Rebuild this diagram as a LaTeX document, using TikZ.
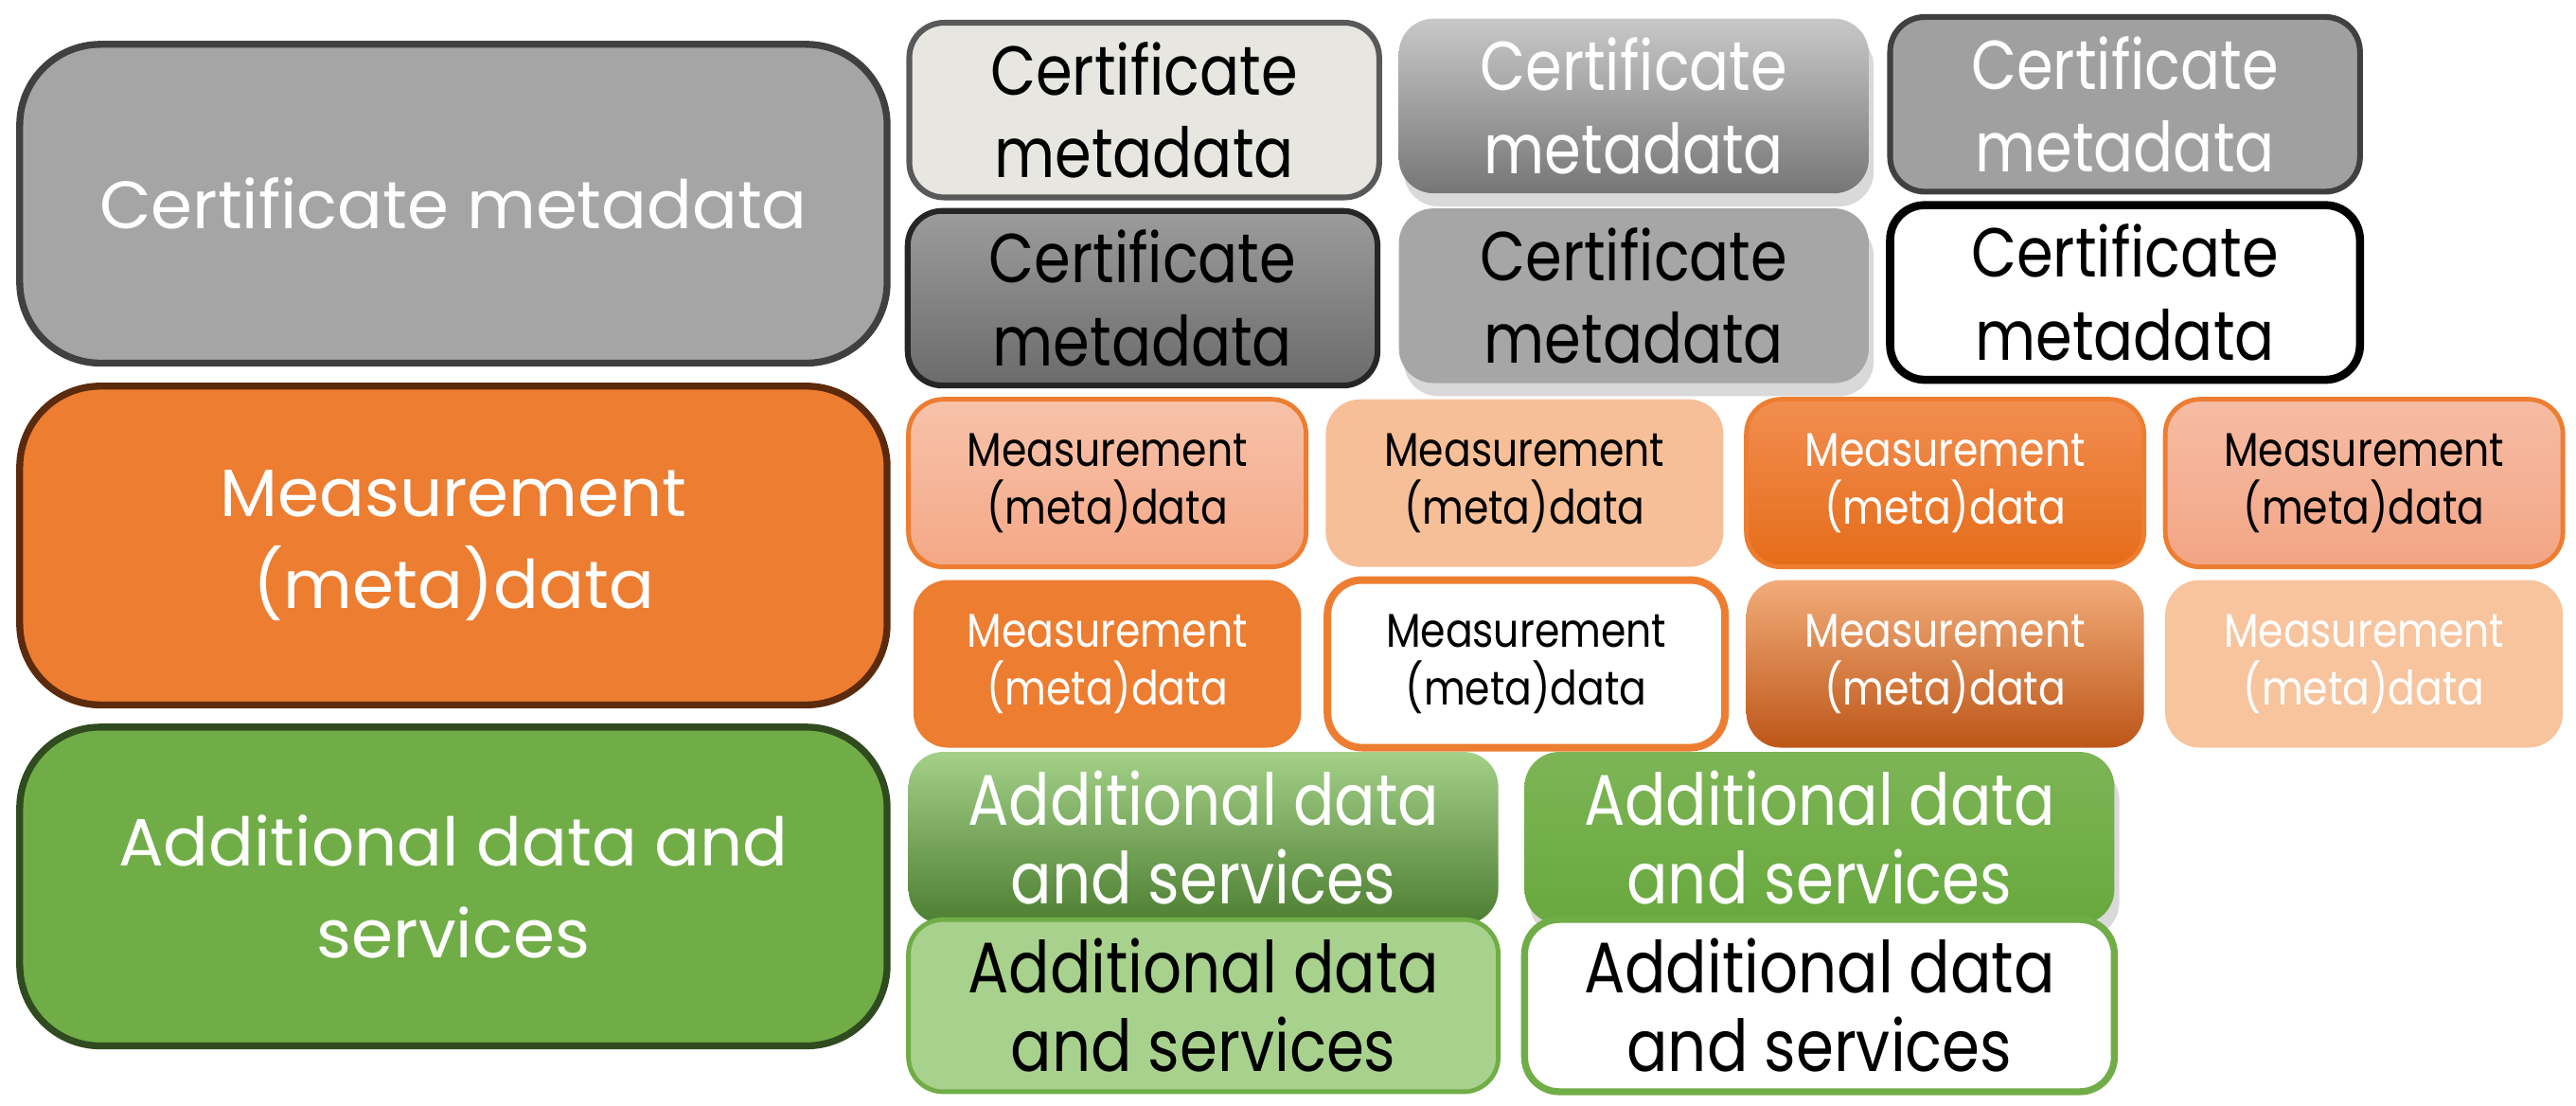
\documentclass[tikz,border=0pt]{standalone}
\usepackage{fontspec}
\setmainfont{Poppins}
\newfontfamily\slimfont[FakeStretch=0.85]{Poppins}
\usetikzlibrary{shadows}

\definecolor{certgray}{HTML}{A5A5A5}
\definecolor{certedge}{HTML}{404040}
\definecolor{measorange}{HTML}{ED7D31}
\definecolor{measedge}{HTML}{5C2A0C}
\definecolor{addgreen}{HTML}{70AD47}
\definecolor{addedge}{HTML}{2F4B1F}
% variant shades
\definecolor{certpale}{HTML}{E7E6E0}
\definecolor{certline}{HTML}{595959}
\definecolor{certtopa}{HTML}{C8C8C8}
\definecolor{certbota}{HTML}{767676}
\definecolor{certmid}{HTML}{A0A0A0}
\definecolor{certtopb}{HTML}{9C9C9C}
\definecolor{certbotb}{HTML}{6B6B6B}
\definecolor{certdark}{HTML}{262626}
\definecolor{certflat}{HTML}{A6A6A6}
\definecolor{meastopa}{HTML}{F7C2AA}
\definecolor{measbota}{HTML}{F4A886}
\definecolor{measpeach}{HTML}{F6BF98}
\definecolor{meastopb}{HTML}{F28E52}
\definecolor{measbotb}{HTML}{E56C18}
\definecolor{meastopc}{HTML}{F6BCA4}
\definecolor{measbotc}{HTML}{F2A585}
\definecolor{meastopd}{HTML}{F2AC7A}
\definecolor{measbotd}{HTML}{BD5618}
\definecolor{measlight}{HTML}{F7C49E}
\definecolor{addtopa}{HTML}{A4D088}
\definecolor{addbota}{HTML}{4C7E31}
\definecolor{addtopb}{HTML}{7DB556}
\definecolor{addbotb}{HTML}{68A83E}
\definecolor{addpale}{HTML}{A9D18E}

\tikzset{
    bigbox/.style={rounded corners=14pt, line width=1.2pt, minimum width=52.8mm,
        minimum height=19.4mm, align=center, text=white,
        font=\fontsize{11.6}{16}\selectfont},
    certbox/.style={rounded corners=6pt, line width=1pt, minimum width=28.6mm,
        minimum height=10.6mm, align=center, font=\slimfont\fontsize{12}{14.3}\selectfont},
    measbox/.style={rounded corners=6pt, line width=0.8pt, minimum width=24.2mm,
        minimum height=10.2mm, align=center, font=\slimfont\fontsize{8.2}{10}\selectfont},
    addbox/.style={rounded corners=6pt, line width=0.8pt, minimum width=35.9mm,
        minimum height=9.6mm, align=center, font=\slimfont\fontsize{12.4}{13.6}\selectfont},
    softshadow/.style={drop shadow={opacity=0.3, shadow xshift=0.3mm, shadow yshift=-0.8mm}}
}

\begin{document}
\begin{tikzpicture}[x=0.1mm, y=-0.1mm]
    \useasboundingbox (0, 0) rectangle (1568, 673);

    % Left column
    \node[bigbox, fill=certgray, draw=certedge] (certmain) at (276, 124) {Certificate metadata};
    \node[bigbox, fill=measorange, draw=measedge] (measmain) at (276, 332) {Measurement\\(meta)data};
    \node[bigbox, fill=addgreen, draw=addedge] (addmain) at (276, 539.5) {Additional data and\\services};

    % Certificate variants
    \node[certbox, fill=certpale, draw=certline] (certa) at (696.5, 67) {Certificate\\metadata};
    \node[certbox, softshadow, top color=certtopa, bottom color=certbota, text=white] (certb) at (994.5, 64.5) {Certificate\\metadata};
    \node[certbox, fill=certmid, draw=certedge, text=white] (certc) at (1293.5, 63.5) {Certificate\\metadata};
    \node[certbox, top color=certtopb, bottom color=certbotb, draw=certdark] (certd) at (695.5, 181.5) {Certificate\\metadata};
    \node[certbox, softshadow, fill=certflat] (certe) at (994.5, 180) {Certificate\\metadata};
    \node[certbox, fill=white, draw=black, line width=1.4pt] (certf) at (1293.5, 178) {Certificate\\metadata};

    % Measurement variants
    \node[measbox, top color=meastopa, bottom color=measbota, draw=measorange] (measa) at (674, 294) {Measurement\\(meta)data};
    \node[measbox, fill=measpeach] (measb) at (928, 294) {Measurement\\(meta)data};
    \node[measbox, top color=meastopb, bottom color=measbotb, draw=measorange, text=white] (measc) at (1184, 294) {Measurement\\(meta)data};
    \node[measbox, top color=meastopc, bottom color=measbotc, draw=measorange] (measd) at (1439, 294) {Measurement\\(meta)data};
    \node[measbox, fill=measorange, text=white, minimum width=23.6mm] (mease) at (674, 404) {Measurement\\(meta)data};
    \node[measbox, fill=white, draw=measorange, line width=1.3pt] (measf) at (929, 404) {Measurement\\(meta)data};
    \node[measbox, top color=meastopd, bottom color=measbotd, text=white] (measg) at (1184, 404) {Measurement\\(meta)data};
    \node[measbox, fill=measlight, text=white] (meash) at (1439, 404) {Measurement\\(meta)data};

    % Additional data variants
    \node[addbox, top color=addtopa, bottom color=addbota, text=white] (adda) at (732.5, 510) {Additional data\\and services};
    \node[addbox, softshadow, top color=addtopb, bottom color=addbotb, text=white] (addb) at (1107.5, 510) {Additional data\\and services};
    \node[addbox, fill=addpale, draw=addgreen] (addc) at (732.5, 612) {Additional data\\and services};
    \node[addbox, fill=white, draw=addgreen, line width=1.2pt] (addd) at (1107.5, 612) {Additional data\\and services};
\end{tikzpicture}
\end{document}
